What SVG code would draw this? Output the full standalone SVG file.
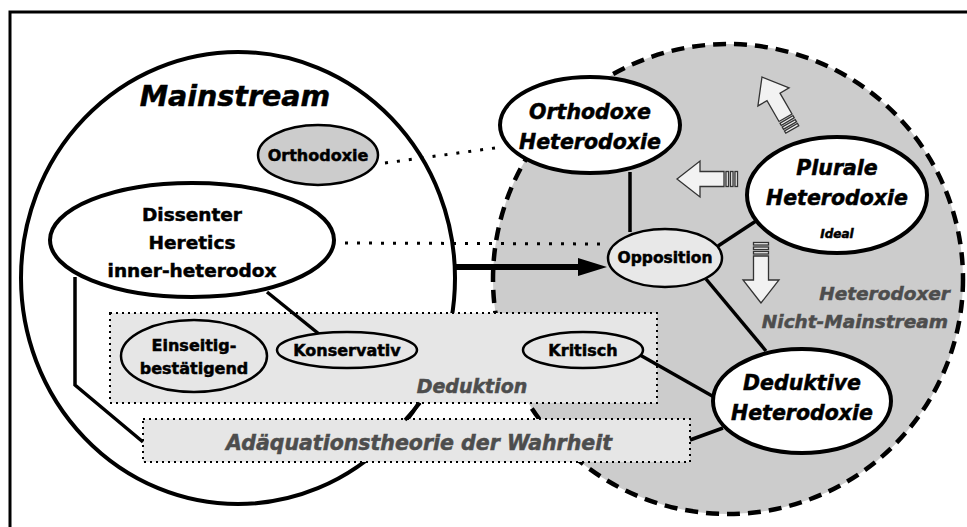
<svg xmlns="http://www.w3.org/2000/svg" width="967" height="527" viewBox="0 0 967 527">
<style>
text{font-family:"DejaVu Sans","Liberation Sans",sans-serif;font-weight:bold;text-anchor:middle;fill:#000;stroke:#000;stroke-width:0.5}
.it{font-style:italic}
.grey{fill:#4d4d4d;stroke:#4d4d4d;font-style:italic}
.node{stroke:#000;stroke-width:4;fill:#fff}
.small{stroke:#000;stroke-width:2.5}
.box{fill:#e6e6e6;stroke:#000;stroke-width:2;stroke-dasharray:2 4}
.conn{stroke:#000;stroke-width:3.5;fill:none}
.dot{stroke:#000;stroke-width:3;stroke-dasharray:3 9;fill:none}
.ha{fill:#f2f2f2;stroke:#333;stroke-width:1.3}
</style>
<defs>
<g id="harrow">
<polygon class="ha" points="0,0 23,-18 23,-7.5 47,-7.5 47,7.5 23,7.5 23,18"/>
<rect class="ha" x="49" y="-7.5" width="2.5" height="15"/>
<rect class="ha" x="53.5" y="-7.5" width="2.5" height="15"/>
<rect class="ha" x="58" y="-7.5" width="2.5" height="15"/>
</g>
</defs>
<rect x="0" y="0" width="967" height="527" fill="#fff"/>
<rect x="10" y="12" width="1000" height="600" fill="none" stroke="#000" stroke-width="3"/>

<g id="heterodox-region">
<circle cx="728" cy="279" r="235" fill="#cccccc" stroke="#000" stroke-width="4.5" stroke-dasharray="13 8"/>
<text class="grey" x="950" y="300" font-size="18.5" style="text-anchor:end">Heterodoxer</text>
<text class="grey" x="948" y="328" font-size="18.5" style="text-anchor:end">Nicht-Mainstream</text>
</g>

<g id="mainstream">
<ellipse cx="238" cy="278" rx="217" ry="226" fill="#fff" stroke="#000" stroke-width="4"/>
<text class="it" x="235" y="106" font-size="28.5">Mainstream</text>
</g>

<g id="arrows">
<use href="#harrow" transform="translate(762,77) rotate(60)"/>
<use href="#harrow" transform="translate(677,179)"/>
<use href="#harrow" transform="translate(761,303) rotate(-90)"/>
</g>

<g id="connectors">
<line class="dot" x1="385" y1="163" x2="502" y2="147"/>
<line class="dot" x1="345" y1="243" x2="608" y2="244"/>
<line x1="455" y1="267" x2="582" y2="267" stroke="#000" stroke-width="6"/>
<polygon points="578,258 607,267 578,276" fill="#000"/>
</g>

<g id="box-deduktion">
<rect class="box" x="110" y="313" width="547" height="90"/>
<text class="grey" x="472" y="393" font-size="19">Deduktion</text>
</g>
<g id="box-adaequation">
<rect class="box" x="143" y="419" width="547" height="43"/>
<text class="grey" x="419" y="450" font-size="20.5">Adäquationstheorie der Wahrheit</text>
</g>

<g id="connectors2">
<line class="conn" x1="630" y1="172" x2="630" y2="232"/>
<line class="conn" x1="756" y1="221" x2="718" y2="246"/>
<line class="conn" x1="706" y1="279" x2="766" y2="351"/>
<line class="conn" x1="640" y1="355" x2="714" y2="397"/>
<line class="conn" x1="690" y1="440" x2="723" y2="428"/>
<polyline class="conn" points="75,277 75,385 143,442"/>
<line class="conn" x1="267" y1="292" x2="319" y2="334"/>
<line class="conn" x1="420" y1="403" x2="405" y2="420"/>
</g>

<g id="orthodoxie">
<ellipse class="small" cx="318" cy="155" rx="60" ry="30" fill="#cccccc"/>
<text x="318" y="161" font-size="16">Orthodoxie</text>
</g>

<g id="dissenter">
<ellipse class="node" cx="192" cy="240" rx="142" ry="57"/>
<text x="192" y="221" font-size="18.5">Dissenter</text>
<text x="192" y="249" font-size="18.5">Heretics</text>
<text x="192" y="277" font-size="18.5">inner-heterodox</text>
</g>

<g id="orthodoxe-heterodoxie">
<ellipse class="node" cx="590" cy="125" rx="90" ry="48"/>
<text class="it" x="590" y="119" font-size="20.5">Orthodoxe</text>
<text class="it" x="590" y="149" font-size="20.5">Heterodoxie</text>
</g>

<g id="plurale-heterodoxie">
<ellipse class="node" cx="837" cy="195" rx="90" ry="58"/>
<text class="it" x="837" y="175" font-size="20.5">Plurale</text>
<text class="it" x="837" y="205" font-size="20.5">Heterodoxie</text>
<text class="it" x="837" y="238" font-size="12">Ideal</text>
</g>

<g id="opposition">
<ellipse class="small" cx="665" cy="258" rx="57" ry="29" fill="#e8e8e8"/>
<text x="665" y="263" font-size="15.5">Opposition</text>
</g>

<g id="deduktive-heterodoxie">
<ellipse class="node" cx="802" cy="401" rx="89" ry="52"/>
<text class="it" x="802" y="390" font-size="20.5">Deduktive</text>
<text class="it" x="802" y="420" font-size="20.5">Heterodoxie</text>
</g>

<g id="einseitig">
<ellipse class="small" cx="194" cy="356" rx="73" ry="36" fill="#e6e6e6"/>
<text x="194" y="351" font-size="16">Einseitig-</text>
<text x="194" y="374" font-size="16">bestätigend</text>
</g>

<g id="konservativ">
<ellipse class="small" cx="347" cy="350" rx="70" ry="18" fill="#e6e6e6"/>
<text x="347" y="356" font-size="16">Konservativ</text>
</g>

<g id="kritisch">
<ellipse class="small" cx="583" cy="350" rx="60" ry="18" fill="#e6e6e6"/>
<text x="583" y="356" font-size="16">Kritisch</text>
</g>
</svg>
